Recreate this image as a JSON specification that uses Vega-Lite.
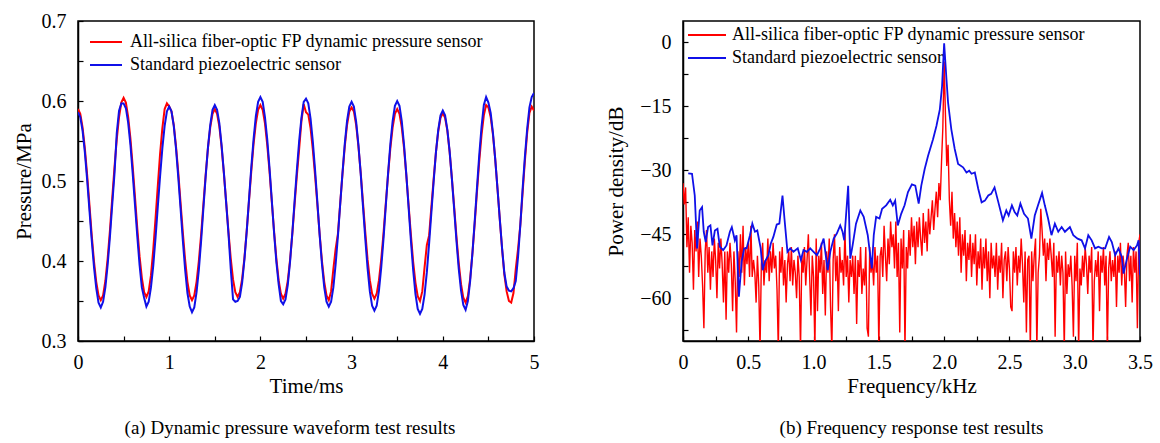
{
"$schema": "https://vega.github.io/schema/vega-lite/v6.json",
"background": "white",
"padding": {"left": 12, "top": 10, "right": 8, "bottom": 4},
"spacing": 64,
"config": {
 "font": "Liberation Serif",
 "view": {"stroke": "#000", "strokeWidth": 1.5},
 "axis": {"labelFont": "Liberation Serif", "titleFont": "Liberation Serif", "labelFontSize": 20, "titleFontSize": 21, "titleFontWeight": "normal", "labelColor": "#000", "titleColor": "#000", "domainColor": "#000", "domainWidth": 1.5, "tickColor": "#000", "tickWidth": 1.2, "tickSize": -5, "tickCount": 100, "grid": false, "labelFlush": false, "labelOverlap": false},
 "axisX": {"titlePadding": 3, "labelPadding": 16},
 "axisY": {"titlePadding": 7, "labelPadding": 17},
 "title": {"font": "Liberation Serif", "fontSize": 19, "fontWeight": "normal", "color": "#000"},
 "legend": {"labelFont": "Liberation Serif", "labelFontSize": 18, "labelColor": "#000", "labelLimit": 600, "padding": 0, "rowPadding": 3, "symbolSize": 400, "symbolStrokeWidth": 2}
},
"resolve": {"scale": {"color": "independent"}, "legend": {"color": "independent"}},
"datasets": {
"wave": [
{"t":0,"r":0.59,"b":0.586},{"t":0.025,"r":0.584,"b":0.58},{"t":0.05,"r":0.567,"b":0.563},{"t":0.075,"r":0.541,"b":0.536},{"t":0.1,"r":0.508,"b":0.502},{"t":0.125,"r":0.471,"b":0.464},{"t":0.15,"r":0.433,"b":0.427},{"t":0.175,"r":0.4,"b":0.393},{"t":0.2,"r":0.374,"b":0.366},{"t":0.225,"r":0.357,"b":0.348},
{"t":0.25,"r":0.351,"b":0.342},{"t":0.275,"r":0.357,"b":0.349},{"t":0.3,"r":0.375,"b":0.367},{"t":0.325,"r":0.403,"b":0.395},{"t":0.35,"r":0.438,"b":0.43},{"t":0.375,"r":0.478,"b":0.47},{"t":0.4,"r":0.517,"b":0.509},{"t":0.425,"r":0.552,"b":0.56},{"t":0.45,"r":0.58,"b":0.588},{"t":0.475,"r":0.598,"b":0.597},
{"t":0.5,"r":0.604,"b":0.597},{"t":0.525,"r":0.598,"b":0.591},{"t":0.55,"r":0.58,"b":0.573},{"t":0.575,"r":0.553,"b":0.545},{"t":0.6,"r":0.518,"b":0.509},{"t":0.625,"r":0.48,"b":0.47},{"t":0.65,"r":0.441,"b":0.431},{"t":0.675,"r":0.406,"b":0.395},{"t":0.7,"r":0.379,"b":0.367},{"t":0.725,"r":0.361,"b":0.354},
{"t":0.75,"r":0.355,"b":0.343},{"t":0.775,"r":0.362,"b":0.349},{"t":0.8,"r":0.382,"b":0.367},{"t":0.825,"r":0.414,"b":0.394},{"t":0.85,"r":0.453,"b":0.429},{"t":0.875,"r":0.494,"b":0.468},{"t":0.9,"r":0.534,"b":0.506},{"t":0.925,"r":0.566,"b":0.541},{"t":0.95,"r":0.59,"b":0.569},{"t":0.975,"r":0.597,"b":0.587},
{"t":1.0,"r":0.593,"b":0.593},{"t":1.025,"r":0.587,"b":0.587},{"t":1.05,"r":0.57,"b":0.569},{"t":1.075,"r":0.543,"b":0.54},{"t":1.1,"r":0.51,"b":0.504},{"t":1.125,"r":0.472,"b":0.465},{"t":1.15,"r":0.435,"b":0.425},{"t":1.175,"r":0.401,"b":0.389},{"t":1.2,"r":0.374,"b":0.36},{"t":1.225,"r":0.357,"b":0.343},
{"t":1.25,"r":0.351,"b":0.336},{"t":1.275,"r":0.357,"b":0.342},{"t":1.3,"r":0.374,"b":0.361},{"t":1.325,"r":0.4,"b":0.389},{"t":1.35,"r":0.433,"b":0.425},{"t":1.375,"r":0.471,"b":0.466},{"t":1.4,"r":0.508,"b":0.506},{"t":1.425,"r":0.541,"b":0.542},{"t":1.45,"r":0.567,"b":0.57},{"t":1.475,"r":0.584,"b":0.589},
{"t":1.5,"r":0.59,"b":0.595},{"t":1.525,"r":0.584,"b":0.589},{"t":1.55,"r":0.568,"b":0.572},{"t":1.575,"r":0.542,"b":0.544},{"t":1.6,"r":0.509,"b":0.51},{"t":1.625,"r":0.473,"b":0.472},{"t":1.65,"r":0.436,"b":0.434},{"t":1.675,"r":0.403,"b":0.39},{"t":1.7,"r":0.377,"b":0.352},{"t":1.725,"r":0.361,"b":0.349},
{"t":1.75,"r":0.355,"b":0.35},{"t":1.775,"r":0.361,"b":0.355},{"t":1.8,"r":0.378,"b":0.373},{"t":1.825,"r":0.404,"b":0.402},{"t":1.85,"r":0.438,"b":0.437},{"t":1.875,"r":0.475,"b":0.477},{"t":1.9,"r":0.512,"b":0.517},{"t":1.925,"r":0.546,"b":0.552},{"t":1.95,"r":0.572,"b":0.581},{"t":1.975,"r":0.589,"b":0.599},
{"t":2.0,"r":0.595,"b":0.605},{"t":2.025,"r":0.589,"b":0.599},{"t":2.05,"r":0.572,"b":0.58},{"t":2.075,"r":0.545,"b":0.552},{"t":2.1,"r":0.512,"b":0.516},{"t":2.125,"r":0.474,"b":0.476},{"t":2.15,"r":0.437,"b":0.435},{"t":2.175,"r":0.403,"b":0.399},{"t":2.2,"r":0.376,"b":0.371},{"t":2.225,"r":0.359,"b":0.35},
{"t":2.25,"r":0.353,"b":0.346},{"t":2.275,"r":0.359,"b":0.352},{"t":2.3,"r":0.375,"b":0.37},{"t":2.325,"r":0.401,"b":0.399},{"t":2.35,"r":0.434,"b":0.435},{"t":2.375,"r":0.471,"b":0.475},{"t":2.4,"r":0.507,"b":0.514},{"t":2.425,"r":0.54,"b":0.55},{"t":2.45,"r":0.575,"b":0.579},{"t":2.475,"r":0.596,"b":0.599},
{"t":2.5,"r":0.586,"b":0.603},{"t":2.525,"r":0.583,"b":0.597},{"t":2.55,"r":0.566,"b":0.578},{"t":2.575,"r":0.539,"b":0.549},{"t":2.6,"r":0.506,"b":0.513},{"t":2.625,"r":0.47,"b":0.473},{"t":2.65,"r":0.433,"b":0.432},{"t":2.675,"r":0.4,"b":0.396},{"t":2.7,"r":0.374,"b":0.367},{"t":2.725,"r":0.357,"b":0.349},
{"t":2.75,"r":0.351,"b":0.343},{"t":2.775,"r":0.362,"b":0.349},{"t":2.8,"r":0.39,"b":0.367},{"t":2.825,"r":0.415,"b":0.396},{"t":2.85,"r":0.434,"b":0.431},{"t":2.875,"r":0.472,"b":0.471},{"t":2.9,"r":0.509,"b":0.51},{"t":2.925,"r":0.543,"b":0.546},{"t":2.95,"r":0.57,"b":0.575},{"t":2.975,"r":0.587,"b":0.593},
{"t":3.0,"r":0.592,"b":0.599},{"t":3.025,"r":0.587,"b":0.593},{"t":3.05,"r":0.57,"b":0.574},{"t":3.075,"r":0.543,"b":0.545},{"t":3.1,"r":0.51,"b":0.509},{"t":3.125,"r":0.473,"b":0.468},{"t":3.15,"r":0.436,"b":0.428},{"t":3.175,"r":0.402,"b":0.391},{"t":3.2,"r":0.376,"b":0.362},{"t":3.225,"r":0.359,"b":0.344},
{"t":3.25,"r":0.353,"b":0.338},{"t":3.275,"r":0.359,"b":0.344},{"t":3.3,"r":0.376,"b":0.363},{"t":3.325,"r":0.402,"b":0.392},{"t":3.35,"r":0.435,"b":0.428},{"t":3.375,"r":0.472,"b":0.469},{"t":3.4,"r":0.508,"b":0.51},{"t":3.425,"r":0.541,"b":0.546},{"t":3.45,"r":0.567,"b":0.575},{"t":3.475,"r":0.584,"b":0.594},
{"t":3.5,"r":0.59,"b":0.6},{"t":3.525,"r":0.584,"b":0.594},{"t":3.55,"r":0.567,"b":0.575},{"t":3.575,"r":0.541,"b":0.545},{"t":3.6,"r":0.507,"b":0.508},{"t":3.625,"r":0.47,"b":0.467},{"t":3.65,"r":0.433,"b":0.426},{"t":3.675,"r":0.399,"b":0.389},{"t":3.7,"r":0.373,"b":0.359},{"t":3.725,"r":0.356,"b":0.34},
{"t":3.75,"r":0.35,"b":0.334},{"t":3.775,"r":0.362,"b":0.34},{"t":3.8,"r":0.392,"b":0.358},{"t":3.825,"r":0.42,"b":0.386},{"t":3.85,"r":0.432,"b":0.422},{"t":3.875,"r":0.468,"b":0.461},{"t":3.9,"r":0.503,"b":0.5},{"t":3.925,"r":0.536,"b":0.536},{"t":3.95,"r":0.562,"b":0.564},{"t":3.975,"r":0.579,"b":0.582},
{"t":4.0,"r":0.585,"b":0.588},{"t":4.025,"r":0.579,"b":0.582},{"t":4.05,"r":0.563,"b":0.564},{"t":4.075,"r":0.536,"b":0.537},{"t":4.1,"r":0.503,"b":0.502},{"t":4.125,"r":0.467,"b":0.464},{"t":4.15,"r":0.43,"b":0.425},{"t":4.175,"r":0.397,"b":0.39},{"t":4.2,"r":0.371,"b":0.363},{"t":4.225,"r":0.354,"b":0.345},
{"t":4.25,"r":0.348,"b":0.339},{"t":4.275,"r":0.356,"b":0.35},{"t":4.3,"r":0.378,"b":0.375},{"t":4.325,"r":0.41,"b":0.41},{"t":4.35,"r":0.447,"b":0.45},{"t":4.375,"r":0.487,"b":0.492},{"t":4.4,"r":0.525,"b":0.533},{"t":4.425,"r":0.558,"b":0.568},{"t":4.45,"r":0.582,"b":0.595},{"t":4.475,"r":0.595,"b":0.605},
{"t":4.5,"r":0.592,"b":0.598},{"t":4.525,"r":0.58,"b":0.585},{"t":4.55,"r":0.558,"b":0.56},{"t":4.575,"r":0.527,"b":0.527},{"t":4.6,"r":0.49,"b":0.49},{"t":4.625,"r":0.452,"b":0.452},{"t":4.65,"r":0.415,"b":0.416},{"t":4.675,"r":0.383,"b":0.385},{"t":4.7,"r":0.362,"b":0.368},{"t":4.725,"r":0.35,"b":0.363},
{"t":4.75,"r":0.348,"b":0.362},{"t":4.775,"r":0.36,"b":0.366},{"t":4.8,"r":0.39,"b":0.375},{"t":4.825,"r":0.415,"b":0.405},{"t":4.85,"r":0.445,"b":0.445},{"t":4.875,"r":0.485,"b":0.49},{"t":4.9,"r":0.525,"b":0.53},{"t":4.925,"r":0.56,"b":0.565},{"t":4.95,"r":0.585,"b":0.592},{"t":4.975,"r":0.593,"b":0.605},
{"t":5.0,"r":0.588,"b":0.61}
],
"red": [
{"f":0,"d":-33},{"f":0.01,"d":-38},{"f":0.02,"d":-34},{"f":0.03,"d":-48},{"f":0.04,"d":-41},{"f":0.05,"d":-54},{"f":0.06,"d":-43},{"f":0.07,"d":-47},{"f":0.08,"d":-58},{"f":0.09,"d":-44},
{"f":0.1,"d":-49},{"f":0.11,"d":-42},{"f":0.12,"d":-55},{"f":0.13,"d":-46},{"f":0.14,"d":-50},{"f":0.15,"d":-57},{"f":0.16,"d":-67},{"f":0.17,"d":-49},{"f":0.18,"d":-44},{"f":0.19,"d":-54},
{"f":0.2,"d":-48},{"f":0.21,"d":-58},{"f":0.22,"d":-49},{"f":0.23,"d":-55},{"f":0.24,"d":-46},{"f":0.25,"d":-51},{"f":0.26,"d":-60},{"f":0.27,"d":-47},{"f":0.28,"d":-53},{"f":0.29,"d":-46},
{"f":0.3,"d":-52},{"f":0.31,"d":-61},{"f":0.32,"d":-49},{"f":0.33,"d":-65},{"f":0.34,"d":-49},{"f":0.35,"d":-54},{"f":0.36,"d":-47},{"f":0.37,"d":-52},{"f":0.38,"d":-63},{"f":0.39,"d":-49},
{"f":0.4,"d":-56},{"f":0.41,"d":-68},{"f":0.42,"d":-49},{"f":0.43,"d":-55},{"f":0.44,"d":-45},{"f":0.45,"d":-54},{"f":0.46,"d":-43},{"f":0.47,"d":-57},{"f":0.48,"d":-48},{"f":0.49,"d":-52},
{"f":0.5,"d":-47},{"f":0.51,"d":-55},{"f":0.52,"d":-43},{"f":0.53,"d":-55},{"f":0.54,"d":-51},{"f":0.55,"d":-54},{"f":0.56,"d":-61},{"f":0.57,"d":-50},{"f":0.58,"d":-57},{"f":0.59,"d":-72},
{"f":0.6,"d":-52},{"f":0.61,"d":-47},{"f":0.62,"d":-57},{"f":0.63,"d":-51},{"f":0.64,"d":-54},{"f":0.65,"d":-46},{"f":0.66,"d":-56},{"f":0.67,"d":-49},{"f":0.68,"d":-54},{"f":0.69,"d":-47},
{"f":0.7,"d":-53},{"f":0.71,"d":-50},{"f":0.72,"d":-58},{"f":0.73,"d":-72},{"f":0.74,"d":-49},{"f":0.75,"d":-54},{"f":0.76,"d":-48},{"f":0.77,"d":-57},{"f":0.78,"d":-51},{"f":0.79,"d":-61},
{"f":0.8,"d":-52},{"f":0.81,"d":-49},{"f":0.82,"d":-56},{"f":0.83,"d":-48},{"f":0.84,"d":-57},{"f":0.85,"d":-51},{"f":0.86,"d":-54},{"f":0.87,"d":-60},{"f":0.88,"d":-50},{"f":0.89,"d":-55},
{"f":0.9,"d":-72},{"f":0.91,"d":-50},{"f":0.92,"d":-54},{"f":0.93,"d":-48},{"f":0.94,"d":-57},{"f":0.95,"d":-51},{"f":0.96,"d":-45},{"f":0.97,"d":-55},{"f":0.98,"d":-64},{"f":0.99,"d":-50},
{"f":1.0,"d":-55},{"f":1.01,"d":-72},{"f":1.02,"d":-46},{"f":1.03,"d":-63},{"f":1.04,"d":-50},{"f":1.05,"d":-54},{"f":1.06,"d":-47},{"f":1.07,"d":-59},{"f":1.08,"d":-51},{"f":1.09,"d":-64},
{"f":1.1,"d":-49},{"f":1.11,"d":-54},{"f":1.12,"d":-46},{"f":1.13,"d":-62},{"f":1.14,"d":-72},{"f":1.15,"d":-51},{"f":1.16,"d":-45},{"f":1.17,"d":-56},{"f":1.18,"d":-50},{"f":1.19,"d":-63},
{"f":1.2,"d":-48},{"f":1.21,"d":-54},{"f":1.22,"d":-51},{"f":1.23,"d":-57},{"f":1.24,"d":-44},{"f":1.25,"d":-55},{"f":1.26,"d":-50},{"f":1.27,"d":-61},{"f":1.28,"d":-51},{"f":1.29,"d":-55},
{"f":1.3,"d":-50},{"f":1.31,"d":-59},{"f":1.32,"d":-50},{"f":1.33,"d":-66},{"f":1.34,"d":-51},{"f":1.35,"d":-55},{"f":1.36,"d":-48},{"f":1.37,"d":-59},{"f":1.38,"d":-53},{"f":1.39,"d":-57},
{"f":1.4,"d":-48},{"f":1.41,"d":-67},{"f":1.42,"d":-69},{"f":1.43,"d":-48},{"f":1.44,"d":-54},{"f":1.45,"d":-51},{"f":1.46,"d":-57},{"f":1.47,"d":-48},{"f":1.48,"d":-54},{"f":1.49,"d":-50},
{"f":1.5,"d":-72},{"f":1.51,"d":-50},{"f":1.52,"d":-48},{"f":1.53,"d":-55},{"f":1.54,"d":-43},{"f":1.55,"d":-50},{"f":1.56,"d":-56},{"f":1.57,"d":-46},{"f":1.58,"d":-52},{"f":1.59,"d":-42},
{"f":1.6,"d":-48},{"f":1.61,"d":-45},{"f":1.62,"d":-53},{"f":1.63,"d":-42},{"f":1.64,"d":-55},{"f":1.65,"d":-47},{"f":1.66,"d":-68},{"f":1.67,"d":-46},{"f":1.68,"d":-53},{"f":1.69,"d":-44},
{"f":1.7,"d":-72},{"f":1.71,"d":-48},{"f":1.72,"d":-53},{"f":1.73,"d":-44},{"f":1.74,"d":-50},{"f":1.75,"d":-41},{"f":1.76,"d":-48},{"f":1.77,"d":-43},{"f":1.78,"d":-52},{"f":1.79,"d":-42},
{"f":1.8,"d":-48},{"f":1.81,"d":-41},{"f":1.82,"d":-46},{"f":1.83,"d":-50},{"f":1.84,"d":-40},{"f":1.85,"d":-47},{"f":1.86,"d":-42},{"f":1.87,"d":-49},{"f":1.88,"d":-39},{"f":1.89,"d":-45},
{"f":1.9,"d":-41},{"f":1.91,"d":-37},{"f":1.92,"d":-44},{"f":1.93,"d":-39},{"f":1.94,"d":-35},{"f":1.95,"d":-41},{"f":1.96,"d":-33},{"f":1.97,"d":-37},{"f":1.98,"d":-28},{"f":1.99,"d":-20},
{"f":2.0,"d":-4.5},{"f":2.01,"d":-17},{"f":2.02,"d":-29},{"f":2.03,"d":-24},{"f":2.04,"d":-37},{"f":2.05,"d":-43},{"f":2.06,"d":-35},{"f":2.07,"d":-46},{"f":2.08,"d":-40},{"f":2.09,"d":-48},
{"f":2.1,"d":-42},{"f":2.11,"d":-50},{"f":2.12,"d":-41},{"f":2.13,"d":-54},{"f":2.14,"d":-45},{"f":2.15,"d":-50},{"f":2.16,"d":-44},{"f":2.17,"d":-56},{"f":2.18,"d":-47},{"f":2.19,"d":-51},
{"f":2.2,"d":-45},{"f":2.21,"d":-55},{"f":2.22,"d":-47},{"f":2.23,"d":-52},{"f":2.24,"d":-45},{"f":2.25,"d":-57},{"f":2.26,"d":-49},{"f":2.27,"d":-53},{"f":2.28,"d":-46},{"f":2.29,"d":-58},
{"f":2.3,"d":-48},{"f":2.31,"d":-53},{"f":2.32,"d":-46},{"f":2.33,"d":-56},{"f":2.34,"d":-49},{"f":2.35,"d":-60},{"f":2.36,"d":-47},{"f":2.37,"d":-53},{"f":2.38,"d":-50},{"f":2.39,"d":-55},
{"f":2.4,"d":-47},{"f":2.41,"d":-58},{"f":2.42,"d":-50},{"f":2.43,"d":-54},{"f":2.44,"d":-47},{"f":2.45,"d":-60},{"f":2.46,"d":-51},{"f":2.47,"d":-49},{"f":2.48,"d":-56},{"f":2.49,"d":-48},
{"f":2.5,"d":-53},{"f":2.51,"d":-62},{"f":2.52,"d":-63},{"f":2.53,"d":-49},{"f":2.54,"d":-54},{"f":2.55,"d":-48},{"f":2.56,"d":-57},{"f":2.57,"d":-50},{"f":2.58,"d":-54},{"f":2.59,"d":-46},
{"f":2.6,"d":-52},{"f":2.61,"d":-61},{"f":2.62,"d":-49},{"f":2.63,"d":-68},{"f":2.64,"d":-51},{"f":2.65,"d":-50},{"f":2.66,"d":-72},{"f":2.67,"d":-49},{"f":2.68,"d":-56},{"f":2.69,"d":-50},
{"f":2.7,"d":-46},{"f":2.71,"d":-72},{"f":2.72,"d":-54},{"f":2.73,"d":-50},{"f":2.74,"d":-39},{"f":2.75,"d":-44},{"f":2.76,"d":-50},{"f":2.77,"d":-46},{"f":2.78,"d":-56},{"f":2.79,"d":-47},
{"f":2.8,"d":-51},{"f":2.81,"d":-46},{"f":2.82,"d":-50},{"f":2.83,"d":-55},{"f":2.84,"d":-47},{"f":2.85,"d":-69},{"f":2.86,"d":-50},{"f":2.87,"d":-54},{"f":2.88,"d":-49},{"f":2.89,"d":-57},
{"f":2.9,"d":-50},{"f":2.91,"d":-54},{"f":2.92,"d":-72},{"f":2.93,"d":-49},{"f":2.94,"d":-59},{"f":2.95,"d":-52},{"f":2.96,"d":-55},{"f":2.97,"d":-50},{"f":2.98,"d":-57},{"f":2.99,"d":-69},
{"f":3.0,"d":-50},{"f":3.01,"d":-56},{"f":3.02,"d":-47},{"f":3.03,"d":-72},{"f":3.04,"d":-53},{"f":3.05,"d":-57},{"f":3.06,"d":-50},{"f":3.07,"d":-55},{"f":3.08,"d":-48},{"f":3.09,"d":-52},
{"f":3.1,"d":-59},{"f":3.11,"d":-50},{"f":3.12,"d":-54},{"f":3.13,"d":-48},{"f":3.14,"d":-72},{"f":3.15,"d":-56},{"f":3.16,"d":-51},{"f":3.17,"d":-55},{"f":3.18,"d":-49},{"f":3.19,"d":-63},
{"f":3.2,"d":-50},{"f":3.21,"d":-54},{"f":3.22,"d":-48},{"f":3.23,"d":-57},{"f":3.24,"d":-50},{"f":3.25,"d":-72},{"f":3.26,"d":-53},{"f":3.27,"d":-49},{"f":3.28,"d":-56},{"f":3.29,"d":-51},
{"f":3.3,"d":-55},{"f":3.31,"d":-49},{"f":3.32,"d":-62},{"f":3.33,"d":-50},{"f":3.34,"d":-54},{"f":3.35,"d":-47},{"f":3.36,"d":-57},{"f":3.37,"d":-50},{"f":3.38,"d":-53},{"f":3.39,"d":-62},
{"f":3.4,"d":-50},{"f":3.41,"d":-47},{"f":3.42,"d":-56},{"f":3.43,"d":-50},{"f":3.44,"d":-61},{"f":3.45,"d":-48},{"f":3.46,"d":-54},{"f":3.47,"d":-49},{"f":3.48,"d":-67},{"f":3.49,"d":-47},
{"f":3.5,"d":-45}
],
"blue": [
{"f":0.04,"d":-30.7},{"f":0.069,"d":-30.8},{"f":0.09,"d":-35.9},{"f":0.108,"d":-48.3},{"f":0.128,"d":-39.4},{"f":0.146,"d":-38.6},{"f":0.159,"d":-44.4},{"f":0.174,"d":-46.8},{"f":0.192,"d":-43.3},{"f":0.21,"d":-42.9},
{"f":0.226,"d":-47.6},{"f":0.244,"d":-44.1},{"f":0.264,"d":-43.7},{"f":0.282,"d":-47.9},{"f":0.308,"d":-48.7},{"f":0.333,"d":-47.6},{"f":0.359,"d":-44.4},{"f":0.374,"d":-43.3},{"f":0.397,"d":-46.4},{"f":0.41,"d":-45.2},
{"f":0.428,"d":-59.6},{"f":0.449,"d":-51.4},{"f":0.469,"d":-48.3},{"f":0.487,"d":-48.3},{"f":0.513,"d":-45.2},{"f":0.531,"d":-42.5},{"f":0.551,"d":-44.4},{"f":0.569,"d":-44.1},{"f":0.595,"d":-48.3},{"f":0.61,"d":-53.4},
{"f":0.628,"d":-51.4},{"f":0.654,"d":-49.9},{"f":0.672,"d":-47.2},{"f":0.692,"d":-45.6},{"f":0.718,"d":-42.7},{"f":0.738,"d":-42.5},{"f":0.762,"d":-35.9},{"f":0.777,"d":-41.3},{"f":0.8,"d":-49.1},{"f":0.821,"d":-48.3},
{"f":0.846,"d":-49.1},{"f":0.879,"d":-48.3},{"f":0.903,"d":-51},{"f":0.923,"d":-48.7},{"f":0.949,"d":-49.1},{"f":0.974,"d":-48.3},{"f":1.0,"d":-49.1},{"f":1.026,"d":-49.9},{"f":1.051,"d":-48.3},{"f":1.077,"d":-46},
{"f":1.108,"d":-53.4},{"f":1.128,"d":-49.1},{"f":1.154,"d":-46},{"f":1.178,"d":-44.8},{"f":1.204,"d":-42.9},{"f":1.222,"d":-44.4},{"f":1.235,"d":-46.4},{"f":1.265,"d":-33.6},{"f":1.281,"d":-50.7},{"f":1.299,"d":-47.6},
{"f":1.325,"d":-42.5},{"f":1.358,"d":-39.4},{"f":1.384,"d":-40.9},{"f":1.415,"d":-45.2},{"f":1.446,"d":-53},{"f":1.461,"d":-45.2},{"f":1.479,"d":-40.9},{"f":1.505,"d":-41.3},{"f":1.525,"d":-39},{"f":1.556,"d":-38.2},
{"f":1.587,"d":-36.9},{"f":1.607,"d":-38.2},{"f":1.625,"d":-37.1},{"f":1.645,"d":-42.9},{"f":1.671,"d":-40.2},{"f":1.697,"d":-38.2},{"f":1.723,"d":-35.1},{"f":1.753,"d":-33.3},{"f":1.779,"d":-33.6},{"f":1.805,"d":-37.8},
{"f":1.825,"d":-33.6},{"f":1.851,"d":-29.7},{"f":1.877,"d":-26.6},{"f":1.915,"d":-22.7},{"f":1.941,"d":-19.6},{"f":1.967,"d":-15.7},{"f":1.984,"d":-10.3},{"f":2.0,"d":-0.2},{"f":2.018,"d":-8.7},{"f":2.03,"d":-14.1},
{"f":2.055,"d":-20.4},{"f":2.081,"d":-25},{"f":2.107,"d":-28.5},{"f":2.145,"d":-29.3},{"f":2.171,"d":-30.5},{"f":2.192,"d":-30.1},{"f":2.21,"d":-30.8},{"f":2.235,"d":-30.5},{"f":2.261,"d":-34.3},{"f":2.287,"d":-37.5},
{"f":2.312,"d":-37.1},{"f":2.338,"d":-35.9},{"f":2.36,"d":-35.5},{"f":2.386,"d":-34},{"f":2.412,"d":-37.1},{"f":2.45,"d":-41.7},{"f":2.476,"d":-39.4},{"f":2.494,"d":-40.6},{"f":2.519,"d":-38.2},{"f":2.54,"d":-39.8},
{"f":2.56,"d":-40.6},{"f":2.584,"d":-37.8},{"f":2.612,"d":-40.2},{"f":2.642,"d":-41.3},{"f":2.668,"d":-46},{"f":2.694,"d":-40.6},{"f":2.719,"d":-38.2},{"f":2.75,"d":-35.3},{"f":2.771,"d":-38.2},{"f":2.796,"d":-41.3},
{"f":2.822,"d":-45.2},{"f":2.848,"d":-42.5},{"f":2.874,"d":-44.4},{"f":2.9,"d":-43.3},{"f":2.925,"d":-44.4},{"f":2.963,"d":-43.3},{"f":2.989,"d":-45.2},{"f":3.022,"d":-46},{"f":3.053,"d":-46.4},{"f":3.079,"d":-48.3},
{"f":3.104,"d":-45.2},{"f":3.13,"d":-46.4},{"f":3.156,"d":-48.3},{"f":3.181,"d":-47.9},{"f":3.207,"d":-48.3},{"f":3.233,"d":-48.3},{"f":3.263,"d":-45.6},{"f":3.284,"d":-46.8},{"f":3.31,"d":-49.9},{"f":3.335,"d":-48.3},
{"f":3.361,"d":-50.3},{"f":3.374,"d":-54.2},{"f":3.4,"d":-50.7},{"f":3.425,"d":-47.9},{"f":3.451,"d":-48.7},{"f":3.477,"d":-47.6},{"f":3.489,"d":-46.4},{"f":3.5,"d":-54.5}
]
},
"hconcat": [
{
 "width": 456, "height": 320,
 "title": {"text": "(a) Dynamic pressure waveform test results", "orient": "bottom", "offset": 23, "dx": -16},
 "data": {"name": "wave"},
 "layer": [
  {"mark": {"type": "line", "strokeWidth": 2, "clip": true},
   "encoding": {
    "x": {"field": "t", "type": "quantitative", "scale": {"domain": [0, 5], "nice": false, "zero": false},
          "axis": {"title": "Time/ms", "values": [0, 0.5, 1, 1.5, 2, 2.5, 3, 3.5, 4, 4.5, 5], "labelExpr": "datum.value % 1 == 0 ? format(datum.value, 'd') : ''"}},
    "y": {"field": "r", "type": "quantitative", "scale": {"domain": [0.3, 0.7], "nice": false, "zero": false},
          "axis": {"title": "Pressure/MPa", "values": [0.3, 0.35, 0.4, 0.45, 0.5, 0.55, 0.6, 0.65, 0.7], "labelExpr": "abs(datum.value * 10 - round(datum.value * 10)) < 0.01 ? format(datum.value, '.1f') : ''"}},
    "color": {"datum": "All-silica fiber-optic FP dynamic pressure sensor",
              "scale": {"domain": ["All-silica fiber-optic FP dynamic pressure sensor", "Standard piezoelectric sensor"], "range": ["#ff0000", "#1010e8"]},
              "legend": {"title": null, "orient": "none", "legendX": 17, "legendY": 10, "symbolType": "M-1.6,0H1.6", "labelOffset": 13}}
   }},
  {"mark": {"type": "line", "strokeWidth": 2, "clip": true},
   "encoding": {
    "x": {"field": "t", "type": "quantitative", "title": "Time/ms"},
    "y": {"field": "b", "type": "quantitative", "title": "Pressure/MPa"},
    "color": {"datum": "Standard piezoelectric sensor"}
   }}
 ]
},
{
 "width": 457, "height": 320,
 "title": {"text": "(b) Frequency response test results", "orient": "bottom", "offset": 23},
 "layer": [
  {"data": {"name": "red"},
   "mark": {"type": "line", "strokeWidth": 1.4, "clip": true},
   "encoding": {
    "x": {"field": "f", "type": "quantitative", "scale": {"domain": [0, 3.5], "nice": false, "zero": false},
          "axis": {"title": "Frequency/kHz", "values": [0, 0.25, 0.5, 0.75, 1, 1.25, 1.5, 1.75, 2, 2.25, 2.5, 2.75, 3, 3.25, 3.5], "labelExpr": "datum.value == 0 ? '0' : ((datum.value * 2) % 1 == 0 ? format(datum.value, '.1f') : '')"}},
    "y": {"field": "d", "type": "quantitative", "scale": {"domain": [-70, 5], "nice": false, "zero": false},
          "axis": {"title": "Power density/dB", "titlePadding": 13, "values": [-67.5, -60, -52.5, -45, -37.5, -30, -22.5, -15, -7.5, 0], "labelExpr": "abs(datum.value / 15 - round(datum.value / 15)) < 0.01 ? format(datum.value, 'd') : ''"}},
    "color": {"datum": "All-silica fiber-optic FP dynamic pressure sensor",
              "scale": {"domain": ["All-silica fiber-optic FP dynamic pressure sensor", "Standard piezoelectric sensor"], "range": ["#ff0000", "#1010e8"]},
              "legend": {"title": null, "orient": "none", "legendX": 13, "legendY": 3, "symbolType": "M-1.9,0H1.9", "labelOffset": 14}}
   }},
  {"data": {"name": "blue"},
   "mark": {"type": "line", "strokeWidth": 1.8, "clip": true},
   "encoding": {
    "x": {"field": "f", "type": "quantitative", "title": "Frequency/kHz"},
    "y": {"field": "d", "type": "quantitative", "title": "Power density/dB"},
    "color": {"datum": "Standard piezoelectric sensor"}
   }}
 ]
}
]
}
